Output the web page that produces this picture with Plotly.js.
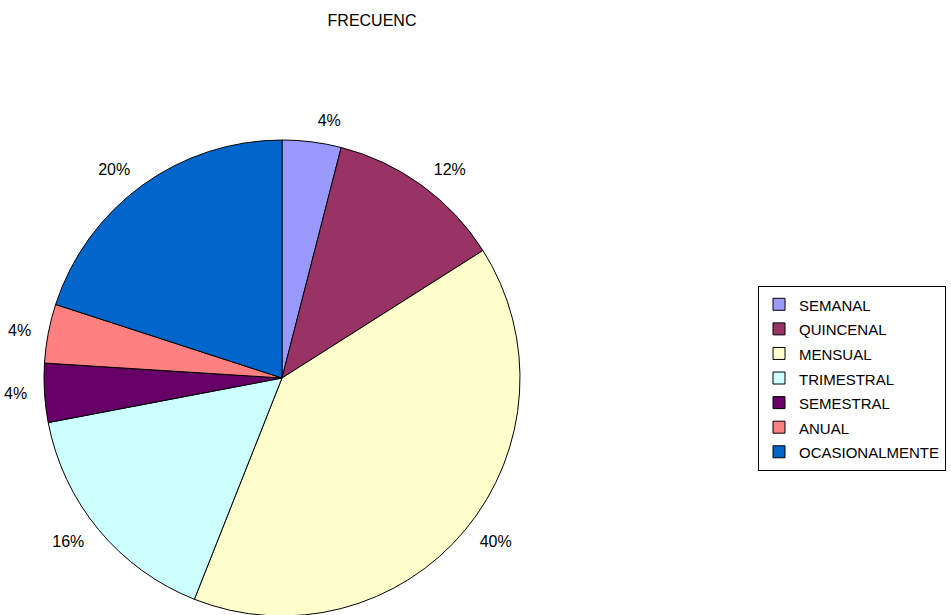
<!DOCTYPE html>
<html>
<head>
<meta charset="utf-8">
<script src="https://cdn.plot.ly/plotly-3.0.1.min.js"></script>
<style>html,body{margin:0;padding:0;background:#fff;overflow:hidden}#frame{width:951px;height:615px;overflow:hidden;position:relative}#chart{width:951px;height:660px}</style>
</head>
<body>
<div id="frame"><div id="chart"></div></div>
<script>
const categories = ['SEMANAL','QUINCENAL','MENSUAL','TRIMESTRAL','SEMESTRAL','ANUAL','OCASIONALMENTE'];
const counts = [1, 3, 10, 4, 1, 1, 5];
const colors = ['#9999FF','#993366','#FFFFCC','#CCFFFF','#660066','#FF8080','#0066CC'];
const titleText = 'FRECUENC';

const fam = 'Liberation Sans, Arial, sans-serif';
const labelFont = {family: fam, size: 16, color: '#000'};
const W = 951, H = 660;
const cx = 282, cy = 378; // pie centre in page pixels
const R = 238, RL = 251;  // pie radius, label ring radius

const pie = {
  type: 'pie',
  labels: categories.map(c => '<span style="font-size:15px">' + c + '</span>'),
  values: counts,
  sort: false,
  direction: 'clockwise',
  rotation: 0,
  marker: {colors: colors, line: {color: '#000', width: 1}},
  textinfo: 'none',
  hoverinfo: 'percent',
  domain: {x: [(cx - R) / W, (cx + R) / W], y: [(H - cy - R) / H, (H - cy + R) / H]},
  showlegend: true
};
const labelsPie = {
  type: 'pie',
  labels: categories,
  values: counts,
  sort: false,
  direction: 'clockwise',
  rotation: 0,
  marker: {colors: colors.map(() => 'rgba(0,0,0,0)'), line: {width: 0}},
  textinfo: 'percent',
  texttemplate: '%{percent:.0%}',
  textposition: 'outside',
  outsidetextfont: labelFont,
  hoverinfo: 'skip',
  domain: {x: [(cx - RL) / W, (cx + RL) / W], y: [(H - cy - RL) / H, (H - cy + RL) / H]},
  showlegend: false
};

const layout = {
  width: W, height: H,
  margin: {l: 0, r: 0, t: 0, b: 0},
  paper_bgcolor: '#fff',
  font: {family: fam, size: 13, color: '#000'},
  title: {text: titleText, font: {family: fam, size: 16, color: '#000'}, x: 372 / W, xanchor: 'center', y: 1 - 20 / H, yanchor: 'middle'},
  legend: {
    x: 758 / W, xanchor: 'left', y: 1 - 286 / H, yanchor: 'top',
    bordercolor: '#000', borderwidth: 1, bgcolor: '#fff',
    font: {family: fam, size: 16.6, color: '#000'}, traceorder: 'normal'
  }
};

Plotly.newPlot('chart', [pie, labelsPie], layout, {staticPlot: true});
</script>
</body>
</html>
